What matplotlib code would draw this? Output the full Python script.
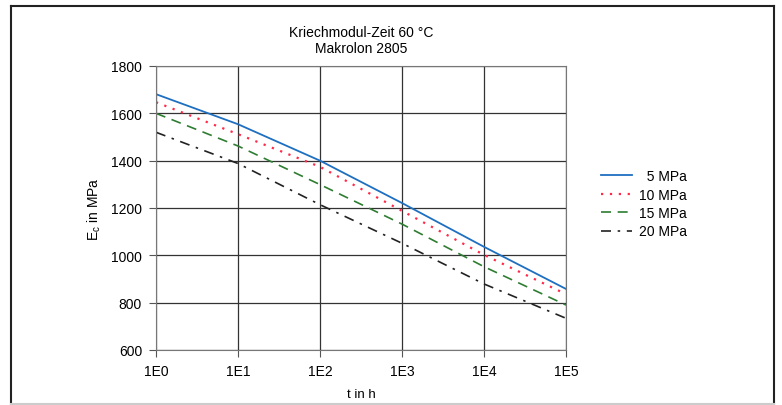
import matplotlib
matplotlib.use("Agg")
import matplotlib.pyplot as plt
from matplotlib.lines import Line2D

plt.rcParams['font.family'] = ['Liberation Sans', 'DejaVu Sans']

# creep modulus at 60 °C, read at each decade of time
hours = [1e0, 1e1, 1e2, 1e3, 1e4, 1e5]
e_5mpa = [1681, 1554, 1400, 1221, 1036, 858]
e_10mpa = [1647, 1512, 1374, 1188, 1002, 836]
e_15mpa = [1600, 1462, 1299, 1132, 952, 790]
e_20mpa = [1520, 1388, 1214, 1051, 879, 734]
x_labels = ['1E0', '1E1', '1E2', '1E3', '1E4', '1E5']

fig = plt.figure(figsize=(7.82, 4.06), dpi=100)

# outer frame (bottom edge is faint in the scan)
l, r, t, b = 11 / 782, 774 / 782, 1 - 7 / 406, 1 - 405 / 406
for xs, ys, c in [([l, r], [t, t], '#222222'), ([l, l], [b, t], '#222222'),
                  ([r, r], [b, t], '#222222'), ([l, r], [b, b], '#cccccc')]:
    fig.add_artist(Line2D(xs, ys, transform=fig.transFigure, color=c, lw=1.5))

ax = fig.add_axes([156 / 782, 1 - 351 / 406, 410 / 782, 284 / 406])
ax.plot(hours, e_5mpa, color='#1f6fc0', lw=1.3, label='  5 MPa')
ax.plot(hours, e_10mpa, color='#ff2a4a', lw=1.6, ls=(0, (1, 3)), label='10 MPa')
ax.plot(hours, e_15mpa, color='#2e7d32', lw=1.2, ls=(0, (6, 4)), label='15 MPa')
ax.plot(hours, e_20mpa, color='#222222', lw=1.2, ls=(0, (6, 4, 1.5, 4)), label='20 MPa')

ax.set_xscale('log')
ax.set_xlim(1e0, 1e5)
ax.set_ylim(600, 1800)
ax.set_xticks(hours)
ax.set_xticklabels(x_labels)
ax.minorticks_off()
ax.set_yticks(range(600, 1801, 200))
ax.tick_params(labelsize=10, length=5, color='#555555', pad=5)
ax.grid(True, color='#333333', lw=0.9)
for s in ax.spines.values():
    s.set_color('#777777')

ax.set_xlabel('t in h', fontsize=9.5, labelpad=7)
ax.set_ylabel('E$_\\mathregular{c}$ in MPa', fontsize=10, labelpad=6)
ax.set_title('Kriechmodul-Zeit 60 °C\nMakrolon 2805', fontsize=10, pad=10,
             linespacing=1.15)

ax.legend(loc='center left', bbox_to_anchor=(1.062, 0.515), frameon=False,
          fontsize=10, handlelength=2.2, handletextpad=0.5, labelspacing=0.32,
          borderpad=0.2)

fig.savefig('out.png', dpi=100)
